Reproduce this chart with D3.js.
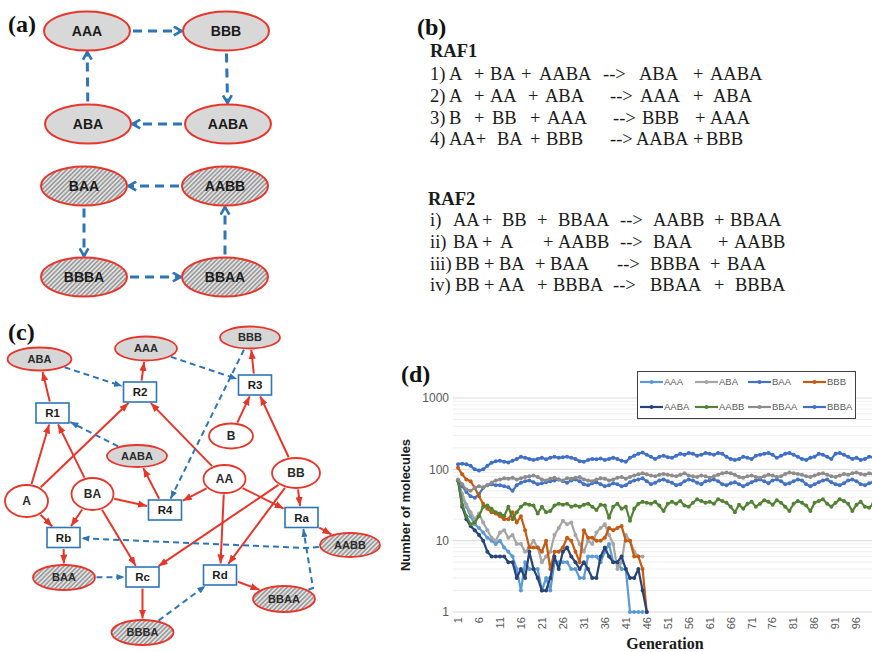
<!DOCTYPE html>
<html><head><meta charset="utf-8">
<script src="https://cdn.jsdelivr.net/npm/d3@7/dist/d3.min.js"></script>
<style>body{margin:0;background:#fff}svg{display:block}</style>
</head><body>
<svg id="fig" width="872" height="652"></svg>
<script>
// ---------------- DATA ----------------
const generations = d3.range(1, 101);
const xTickLabels = d3.range(1, 100, 5);
const yTickValues = [1, 10, 100, 1000];
const seriesNames = ["AAA", "ABA", "BAA", "BBB", "AABA", "AABB", "BBAA", "BBBA"];

const AAA = [70,42,30,22,17,15,13,11,10,9,10,8,7,6,4,2,5,4,4,4,2,3,2,5,5,5,5,4,4,3,3,6,6,6,5,7,9,5,5,4,4,1,1,1,1];
const ABA = [70,45,32,25,20,24,18,14,11,10,13,14,11,12,9,9,7,8,10,8,5,6,7,12,15,19,17,18,12,9,7,10,9,13,15,17,12,9,4,5,12,10,7,6,6];
const BAA = [70,58,48,42,40,45,55,60,62,60, 60,58,56,50,60,65,68,70,66,62, 64,66,68,70,72,68,65,70,72,68,
             62,60,64,66,62,58,60,64,62,58, 60,66,70,72,75,68,62,65,70,72, 68,65,60,62,68,72,70,65,62,68,
             70,72,68,62,60,64,66,62,58,62, 66,70,72,68,64,70,72,68,62,64, 68,72,70,62,58,62,66,70,72,66,
             62,60,64,70,72,68,62,60,64,66];
const BBB = [105,85,72,68,55,42,33,28,25,24,22,20,20,25,18,22,14,8,8,8,7,10,4,7,7,8,11,10,7,5,14,11,11,10,10,11,15,14,15,16,10,10,6,6,4,1];
const AABA = [70,30,20,16,14,12,10,7,6,6,6,6,5,5,3,4,3,7,4,3,2,2,3,6,4,7,8,6,5,4,5,4,3,3,6,8,6,5,5,6,4,3,3,4,2,1];
const AABB = [70,32,22,17,18,22,30,31,28,25, 24,22,30,20,25,30,33,32,31,24, 30,25,26,31,33,32,33,30,31,30,
              32,33,30,27,32,31,21,30,33,28, 30,19,28,33,35,34,33,35,31,26, 33,35,33,36,31,30,34,38,36,34,
              35,33,38,36,34,30,25,32,28,33, 35,30,33,37,35,32,37,34,30,26, 33,36,34,31,26,34,36,38,33,30,
              34,38,36,33,26,32,35,30,29,33];
const BBAA = [72,62,52,50,55,58,56,60,65,70, 72,75,74,76,72,75,78,80,82,78, 72,70,74,76,72,70,75,74,76,78,
              72,70,68,72,75,74,70,72,76,78, 74,78,82,85,88,85,82,80,84,86, 84,82,80,84,88,82,80,78,82,80,
              76,80,84,88,90,88,84,78,76,80, 82,78,76,80,84,82,78,80,86,90, 88,86,84,80,78,82,86,88,84,80,
              78,82,86,84,88,90,86,84,88,86];
const BBBA = [118,120,118,112,100,96,100,112,124,130, 132,128,125,132,140,150,145,140,135,140,
              145,138,145,150,145,148,150,145,140,130, 128,135,140,138,142,135,140,145,140,132,
              128,145,155,165,172,160,150,140,150,155, 148,145,155,165,160,170,165,155,160,170,
              165,160,170,165,150,140,135,140,150,145, 140,155,160,165,170,160,145,155,165,170,
              160,150,140,135,145,150,165,160,150,140, 165,170,160,150,140,145,135,140,150,148];
const seriesValues = {AAA, ABA, BAA, BBB, AABA, AABB, BBAA, BBBA};

// panel (a) cycles
const cycleRAF1 = ["AAA", "BBB", "AABA", "ABA"];
const cycleRAF2 = ["BBBA", "BBAA", "AABB", "BAA"];

// panel (b) text
const raf1Lines = [
  ["1)","A","+","BA","+","AABA","-->","ABA","+","AABA"],
  ["2)","A","+","AA","+","ABA","-->","AAA","+","ABA"],
  ["3)","B","+","BB","+","AAA","-->","BBB","+","AAA"],
  ["4)","AA+","BA","+","BBB","-->","AABA","+","BBB"]
];
const raf2Lines = [
  ["i)","AA","+","BB","+","BBAA","-->","AABB","+","BBAA"],
  ["ii)","BA","+","A","+","AABB","-->","BAA","+","AABB"],
  ["iii)","BB","+","BA","+","BAA","-->","BBBA","+","BAA"],
  ["iv)","BB","+","AA","+","BBBA","-->","BBAA","+","BBBA"]
];

// panel (c) network
const foodSet = ["A", "B", "AA", "BA", "BB"];
const raf1Mols = ["ABA", "AAA", "BBB", "AABA"];
const raf2Mols = ["AABB", "BAA", "BBAA", "BBBA"];
const reactions = ["R1","R2","R3","R4","Ra","Rb","Rc","Rd"];
const redEdges = [
  ["A","R1"],["BA","R1"],["R1","ABA"],
  ["A","R2"],["AA","R2"],["R2","AAA"],
  ["B","R3"],["BB","R3"],["R3","BBB"],
  ["AA","R4"],["BA","R4"],["R4","AABA"],
  ["AA","Ra"],["BB","Ra"],["Ra","AABB"],
  ["BA","Rb"],["A","Rb"],["Rb","BAA"],
  ["BB","Rc"],["BA","Rc"],["Rc","BBBA"],
  ["BB","Rd"],["AA","Rd"],["Rd","BBAA"]
];
const catalysisEdges = [
  ["AABA","R1"],["ABA","R2"],["AAA","R3"],["BBB","R4"],
  ["BBAA","Ra"],["AABB","Rb"],["BAA","Rc"],["BBBA","Rd"]
];

// ---------------- LAYOUT / STYLE ----------------
const RED = "#e8352a", BLUE = "#2e75b6";
const colors = {AAA:"#5b9bd5", ABA:"#a5a5a5", BAA:"#4472c4", BBB:"#c55a11",
                AABA:"#264478", AABB:"#548235", BBAA:"#8c8c8c", BBBA:"#3f6fc6"};

const svg = d3.select("#fig");
svg.append("rect").attr("width", 872).attr("height", 652).attr("fill", "#fff");
const defs = svg.append("defs");
const hatch = defs.append("pattern").attr("id", "hatch").attr("width", 3.2).attr("height", 3.2)
  .attr("patternUnits", "userSpaceOnUse").attr("patternTransform", "rotate(45)");
hatch.append("rect").attr("width", 3.2).attr("height", 3.2).attr("fill", "#e2e2e2");
hatch.append("line").attr("x1", 0.8).attr("y1", 0).attr("x2", 0.8).attr("y2", 3.2)
  .attr("stroke", "#7a7a7a").attr("stroke-width", 1.1);

function marker(id, color, open, size) {
  const m = defs.append("marker").attr("id", id).attr("viewBox", "0 0 10 10")
    .attr("refX", open ? 9 : 10).attr("refY", 5).attr("markerUnits", "userSpaceOnUse")
    .attr("markerWidth", size).attr("markerHeight", size).attr("orient", "auto");
  if (open) m.append("path").attr("d", "M2,1 L9,5 L2,9").attr("fill", "none")
    .attr("stroke", color).attr("stroke-width", 2.4).attr("stroke-linejoin", "miter");
  else m.append("path").attr("d", "M0,1 L10,5 L0,9 Z").attr("fill", color);
}
marker("openBlue", BLUE, true, 11);
marker("redHead", RED, false, 9);
marker("blueHead", BLUE, false, 8);

function boundary(n, tx, ty, gap) {
  const dx = tx - n.x, dy = ty - n.y;
  let t;
  if (n.kind === "rect") t = Math.min((n.w / 2) / Math.max(Math.abs(dx), 1e-9), (n.h / 2) / Math.max(Math.abs(dy), 1e-9));
  else t = 1 / Math.sqrt((dx / n.rx) ** 2 + (dy / n.ry) ** 2);
  const len = Math.hypot(dx, dy);
  const extra = (gap || 0) / len;
  return [n.x + dx * (t + extra), n.y + dy * (t + extra)];
}

function panelLabel(txt, x, y) {
  svg.append("text").attr("x", x).attr("y", y).text(txt)
    .attr("font-family", "Liberation Serif, Times New Roman, serif").attr("font-weight", "bold")
    .attr("font-size", 24).attr("fill", "#111");
}

// ---------------- PANEL (a) ----------------
const layoutA = {AAA:[87,31], BBB:[226,31], ABA:[88,124], AABA:[228,124],
                 BAA:[84,186], AABB:[225,186], BBBA:[84,277], BBAA:[225,277]};
const gA = svg.append("g");
function drawCycle(cycle) {
  cycle.forEach((name, i) => {
    const nxt = cycle[(i + 1) % cycle.length];
    const s = {x: layoutA[name][0], y: layoutA[name][1], rx: 43, ry: 19.5};
    const t = {x: layoutA[nxt][0], y: layoutA[nxt][1], rx: 43, ry: 19.5};
    const p0 = boundary(s, t.x, t.y, 3), p1 = boundary(t, s.x, s.y, 1.5);
    gA.append("line").attr("x1", p0[0]).attr("y1", p0[1]).attr("x2", p1[0]).attr("y2", p1[1])
      .attr("stroke", BLUE).attr("stroke-width", 3).attr("stroke-dasharray", "9,6")
      .attr("marker-end", "url(#openBlue)");
  });
}
drawCycle(cycleRAF1); drawCycle(cycleRAF2);
Object.keys(layoutA).forEach(name => {
  const hatched = raf2Mols.includes(name);
  gA.append("ellipse").attr("cx", layoutA[name][0]).attr("cy", layoutA[name][1])
    .attr("rx", 43).attr("ry", 19.5).attr("fill", hatched ? "url(#hatch)" : "#d8d8d8")
    .attr("stroke", RED).attr("stroke-width", 2);
  gA.append("text").attr("x", layoutA[name][0]).attr("y", layoutA[name][1]).attr("dy", "0.36em")
    .attr("text-anchor", "middle").attr("font-family", "Liberation Sans, Arial, sans-serif")
    .attr("font-weight", "bold").attr("font-size", 14).attr("fill", "#1a1a1a").text(name);
});
panelLabel("(a)", 8, 32);

// ---------------- PANEL (b) ----------------
const raf1X = [
  [430,449,474,490,521,539,603,639,693,710],
  [430,449,474,490,528,545,610,640,693,713],
  [430,449,474,492,530,547,613,642,695,710],
  [430,449,497,530,546,610,636,693,706]
];
const raf2X = [
  [430,453,482,502,537,558,620,653,714,730],
  [430,453,482,500,543,558,620,653,718,734],
  [430,455,484,499,535,550,617,650,710,727],
  [430,455,484,498,537,553,613,650,714,735]
];
const raf1Y = [80, 102, 123.5, 145], raf2Y = [226, 248, 270, 291];
const gB = svg.append("g").attr("font-family", "Liberation Serif, Times New Roman, serif")
  .attr("font-size", 18.5).attr("fill", "#1a1a1a");
panelLabel("(b)", 417, 35);
gB.append("text").attr("x", 430).attr("y", 57).attr("font-weight", "bold").text("RAF1");
gB.append("text").attr("x", 428).attr("y", 205).attr("font-weight", "bold").text("RAF2");
function drawLines(lines, xs, ys) {
  lines.forEach((tokens, li) => {
    tokens.forEach((tok, ti) => {
      gB.append("text").attr("x", xs[li][ti]).attr("y", ys[li]).text(tok);
    });
  });
}
drawLines(raf1Lines, raf1X, raf1Y);
drawLines(raf2Lines, raf2X, raf2Y);

// ---------------- PANEL (c) ----------------
const layoutC = {
  ABA:{x:39.5,y:359,rx:32,ry:11.5}, AAA:{x:146,y:348.5,rx:31,ry:12}, BBB:{x:250,y:337.5,rx:30,ry:11},
  AABA:{x:137,y:456,rx:30,ry:11}, B:{x:231,y:436,rx:22,ry:12.5}, AA:{x:224.5,y:479,rx:21,ry:14},
  BB:{x:296,y:473,rx:24,ry:15}, A:{x:26.5,y:501,rx:21.5,ry:16}, BA:{x:92.5,y:494,rx:21,ry:16},
  AABB:{x:350,y:545,rx:30,ry:12}, BAA:{x:64,y:577.5,rx:31,ry:12.5}, BBAA:{x:284,y:599,rx:31,ry:13},
  BBBA:{x:142.5,y:632.5,rx:31,ry:12.5},
  R1:{x:52.5,y:413}, R2:{x:140,y:392}, R3:{x:255,y:385}, R4:{x:165,y:510},
  Ra:{x:301.5,y:517.5}, Rb:{x:63.5,y:537.5}, Rc:{x:142.5,y:577}, Rd:{x:220,y:575}
};
reactions.forEach(r => Object.assign(layoutC[r], {kind:"rect", w:33, h:20}));
const waypoints = {"BBAA-Ra": [[313,588],[307,552]], "AABB-Rb": [[305,548]]};
const gC = svg.append("g");
function edge(src, tgt, color, dashed, head) {
  const s = layoutC[src], t = layoutC[tgt];
  const wp = waypoints[src + "-" + tgt] || [];
  const first = wp.length ? wp[0] : [t.x, t.y];
  const last = wp.length ? wp[wp.length - 1] : [s.x, s.y];
  const p0 = boundary(s, first[0], first[1], 1.5);
  const p1 = boundary(t, last[0], last[1], 1.5);
  const pts = [p0, ...wp, p1];
  gC.append("path").attr("d", d3.line()(pts)).attr("fill", "none").attr("stroke", color)
    .attr("stroke-width", 2).attr("stroke-dasharray", dashed ? "6,4" : null)
    .attr("marker-end", "url(#" + head + ")");
}
redEdges.forEach(e => edge(e[0], e[1], RED, false, "redHead"));
catalysisEdges.forEach(e => edge(e[0], e[1], BLUE, true, "blueHead"));
[...foodSet, ...raf1Mols, ...raf2Mols].forEach(name => {
  const n = layoutC[name];
  const fill = foodSet.includes(name) ? "#fff" : raf2Mols.includes(name) ? "url(#hatch)" : "#d6d6d6";
  gC.append("ellipse").attr("cx", n.x).attr("cy", n.y).attr("rx", n.rx).attr("ry", n.ry)
    .attr("fill", fill).attr("stroke", RED).attr("stroke-width", 1.8);
  gC.append("text").attr("x", n.x).attr("y", n.y).attr("dy", "0.36em").attr("text-anchor", "middle")
    .attr("font-family", "Liberation Sans, Arial, sans-serif").attr("font-weight", "bold")
    .attr("font-size", foodSet.includes(name) ? 12 : 11).attr("fill", "#2a2a2a").text(name);
});
reactions.forEach(r => {
  const n = layoutC[r];
  gC.append("rect").attr("x", n.x - n.w / 2).attr("y", n.y - n.h / 2).attr("width", n.w).attr("height", n.h)
    .attr("fill", "#fff").attr("stroke", BLUE).attr("stroke-width", 1.6);
  gC.append("text").attr("x", n.x).attr("y", n.y).attr("dy", "0.36em").attr("text-anchor", "middle")
    .attr("font-family", "Liberation Sans, Arial, sans-serif").attr("font-weight", "bold")
    .attr("font-size", 11.5).attr("fill", "#1a1a1a").text(r);
});
panelLabel("(c)", 8, 340);

// ---------------- PANEL (d) ----------------
const x = d3.scaleLinear().domain([1, 100]).range([458, 458 + 99 * 4.195]);
const y = d3.scaleLog().domain([1, 1000]).range([612, 398]);
const gD = svg.append("g");
const minor = [];
[1, 10, 100].forEach(d => d3.range(2, 10).forEach(m => minor.push(d * m)));
gD.selectAll(".minor").data(minor).join("line").attr("x1", 453).attr("x2", 872)
  .attr("y1", d => y(d)).attr("y2", d => y(d)).attr("stroke", "#efefef").attr("stroke-width", 1);
gD.selectAll(".major").data(yTickValues).join("line").attr("x1", 453).attr("x2", 872)
  .attr("y1", d => y(d)).attr("y2", d => y(d)).attr("stroke", "#d9d9d9").attr("stroke-width", 1);
gD.selectAll(".ylab").data(yTickValues).join("text").attr("x", 449).attr("y", d => y(d))
  .attr("dy", "0.35em").attr("text-anchor", "end").attr("font-family", "Liberation Sans, Arial, sans-serif")
  .attr("font-size", 12).attr("fill", "#595959").text(d => d);
gD.selectAll(".xlab").data(xTickLabels).join("text")
  .attr("transform", d => `translate(${x(d)},617) rotate(-90)`).attr("dy", "0.35em")
  .attr("text-anchor", "end").attr("font-family", "Liberation Sans, Arial, sans-serif")
  .attr("font-size", 11).attr("fill", "#595959").text(d => d);

const line = d3.line().x(d => x(d[0])).y(d => y(d[1]));
seriesNames.forEach(name => {
  const pts = seriesValues[name].map((v, i) => [generations[i], v]);
  const g = gD.append("g");
  g.append("path").attr("d", line(pts)).attr("fill", "none").attr("stroke", colors[name])
    .attr("stroke-width", 2.2).attr("stroke-linejoin", "round");
  g.selectAll("circle").data(pts).join("circle").attr("cx", d => x(d[0])).attr("cy", d => y(d[1]))
    .attr("r", 2).attr("fill", colors[name]);
});

// axis titles
gD.append("text").attr("transform", "translate(410,505) rotate(-90)").attr("text-anchor", "middle")
  .attr("font-family", "Liberation Sans, Arial, sans-serif").attr("font-weight", "bold")
  .attr("font-size", 13).attr("fill", "#1a1a1a").text("Number of molecules");
gD.append("text").attr("x", 665).attr("y", 649).attr("text-anchor", "middle")
  .attr("font-family", "Liberation Serif, Times New Roman, serif").attr("font-weight", "bold")
  .attr("font-size", 16).attr("fill", "#1a1a1a").text("Generation");

// legend
const lg = gD.append("g");
lg.append("rect").attr("x", 637.5).attr("y", 371.5).attr("width", 218).attr("height", 47)
  .attr("fill", "#fff").attr("stroke", "#404040").attr("stroke-width", 1);
const legendCols = [640, 695, 748, 803], legendRows = [382, 407];
seriesNames.forEach((name, i) => {
  const lx = legendCols[i % 4], ly = legendRows[Math.floor(i / 4)];
  lg.append("line").attr("x1", lx).attr("x2", lx + 23).attr("y1", ly).attr("y2", ly)
    .attr("stroke", colors[name]).attr("stroke-width", 2.2);
  lg.append("circle").attr("cx", lx + 11.5).attr("cy", ly).attr("r", 2).attr("fill", colors[name]);
  lg.append("text").attr("x", lx + 24).attr("y", ly).attr("dy", "0.35em")
    .attr("font-family", "Liberation Sans, Arial, sans-serif").attr("font-size", 9.5)
    .attr("fill", "#595959").text(name);
});
panelLabel("(d)", 401, 382);
</script>
</body></html>
